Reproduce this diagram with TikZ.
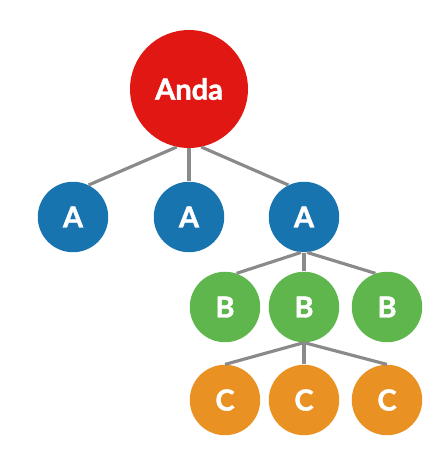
\documentclass[tikz,border=0pt]{standalone}
\usepackage{fontspec}
\setmainfont{Lato}[BoldFeatures={FakeBold=1.6}]
\definecolor{mycolor1}{RGB}{224,23,18}
\definecolor{mycolor2}{RGB}{24,116,175}
\definecolor{mycolor3}{RGB}{94,182,76}
\definecolor{mycolor4}{RGB}{233,146,35}
\definecolor{mycolor5}{RGB}{138,138,138}

\begin{document}
\begin{tikzpicture}[x=0.02cm, y=-0.02cm, font=\bfseries\fontsize{16.5}{19}\selectfont,
  every node/.style={circle, text=white, inner sep=0pt},
  leaf/.style={minimum size=1.41cm},
  link/.style={mycolor5, line width=1.8pt}]
  \useasboundingbox (0,0) rectangle (441,467);

  \node[fill=mycolor1, minimum size=2.36cm] (anda) at (189,89) {Anda};

  \node[leaf, fill=mycolor2] (a1) at (73,217) {A};
  \node[leaf, fill=mycolor2] (a2) at (189,217) {A};
  \node[leaf, fill=mycolor2] (a3) at (304,217) {A};

  \node[leaf, fill=mycolor3] (b1) at (225,307) {B};
  \node[leaf, fill=mycolor3] (b2) at (304,307) {B};
  \node[leaf, fill=mycolor3] (b3) at (387,307) {B};

  \node[leaf, fill=mycolor4] (c1) at (225,400) {C};
  \node[leaf, fill=mycolor4] (c2) at (304,400) {C};
  \node[leaf, fill=mycolor4] (c3) at (387,400) {C};

  \draw[link] (anda.258) -- (a1.64); % anda
  \draw[link] (anda.south) -- (a2.north);
  \draw[link] (anda.282) -- (a3.116);

  \draw[link] (a3.265) -- (b1.71); % a
  \draw[link] (a3.south) -- (b2.north);
  \draw[link] (a3.275) -- (b3.109);

  \draw[link] (b2.south) -- (c1.north); % b
  \draw[link] (b2.south) -- (c2.north);
  \draw[link] (b2.south) -- (c3.north);
\end{tikzpicture}
\end{document}
